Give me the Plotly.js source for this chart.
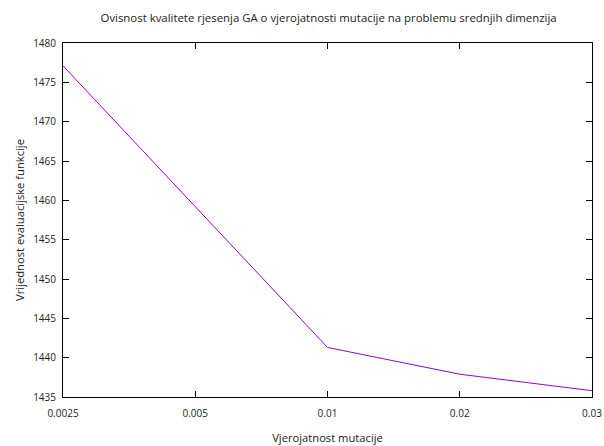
<!DOCTYPE html>
<html>
<head>
<meta charset="utf-8">
<script src="https://cdn.plot.ly/plotly-3.0.1.min.js"></script>
<style>html,body{margin:0;padding:0;background:#fff;}#chart{width:604px;height:446px;}</style>
</head>
<body>
<div id="chart"></div>
<script>
const mutationRates = ['0.0025', '0.005', '0.01', '0.02', '0.03'];
const fitnessValues = [1477.1, 1459.2, 1441.3, 1437.9, 1435.8];
const yTicks = [1435, 1440, 1445, 1450, 1455, 1460, 1465, 1470, 1475, 1480];

const fam = 'Open Sans, Noto Sans, sans-serif';
const tickFont = {family: fam, size: 10, color: '#222'};
const labelFont = {family: fam, size: 11.2, color: '#222'};

Plotly.newPlot('chart', [{
  x: mutationRates,
  y: fitnessValues,
  type: 'scatter',
  mode: 'lines',
  line: {color: '#9400D3', width: 1},
  showlegend: false
}], {
  width: 604, height: 446,
  margin: {l: 63, r: 12, t: 43, b: 49},
  paper_bgcolor: '#fff', plot_bgcolor: '#fff',
  font: tickFont,
  title: {text: 'Ovisnost kvalitete rjesenja GA o vjerojatnosti mutacije na problemu srednjih dimenzija',
          font: {family: fam, size: 11.4, color: '#222'}, x: 0.544, xanchor: 'center', y: 0.96, yanchor: 'middle'},
  xaxis: {
    type: 'category', range: [0, 4],
    showgrid: false, zeroline: false,
    showline: true, linecolor: '#000', linewidth: 1, mirror: 'ticks',
    ticks: 'inside', ticklen: 6, tickcolor: '#000',
    ticklabelstandoff: 7,
    tickfont: tickFont,
    title: {text: 'Vjerojatnost mutacije', font: labelFont, standoff: 15}
  },
  yaxis: {
    range: [1435, 1480], tickvals: yTicks,
    showgrid: false, zeroline: false,
    showline: true, linecolor: '#000', linewidth: 1, mirror: 'ticks',
    ticks: 'inside', ticklen: 6, tickcolor: '#000',
    ticklabelstandoff: 4,
    tickfont: tickFont,
    title: {text: 'Vrijednost evaluacijske funkcije', font: labelFont, standoff: 6}
  }
}, {staticPlot: true});
</script>
</body>
</html>
